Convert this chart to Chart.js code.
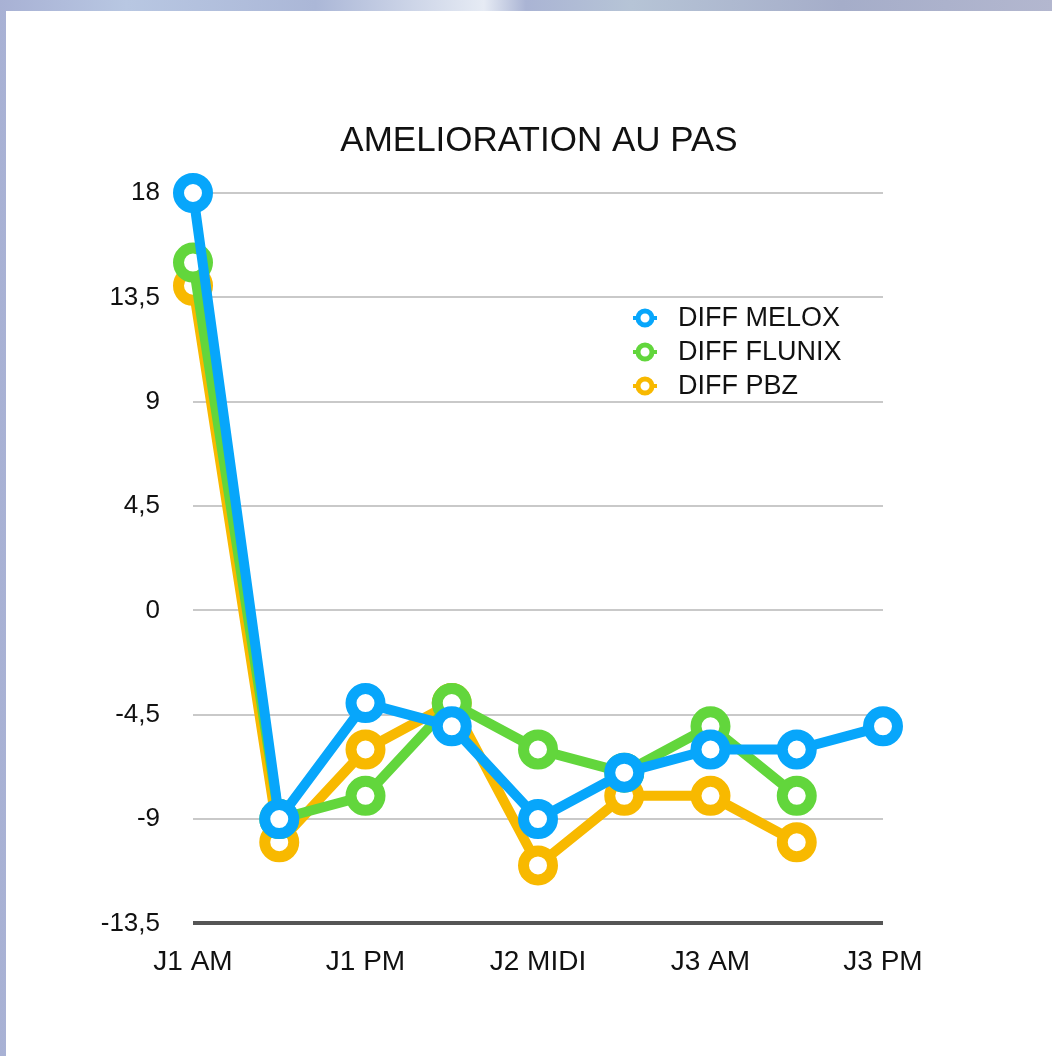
<!DOCTYPE html>
<html>
<head>
<meta charset="utf-8">
<script src="https://cdn.jsdelivr.net/npm/chart.js@4.4.1/dist/chart.umd.min.js"></script>
<style>
  html, body { margin: 0; padding: 0; }
  body {
    width: 1052px; height: 1056px; overflow: hidden;
    background: linear-gradient(90deg, #a8b1d4 0%, #b8c7e2 12%, #abb7d7 30%, #e6ebf4 46%, #aab4d4 50%, #b6c4d6 60%, #a5adc9 80%, #b3b7cf 100%);
  }
  #panel {
    position: absolute; left: 6px; top: 11px; width: 1046px; height: 1045px;
    background: #ffffff;
  }
</style>
</head>
<body>
<div id="panel"><canvas id="chart" width="1046" height="1045"></canvas></div>
<script>
const categories = ['J1 AM', 'J1 MIDI', 'J1 PM', 'J2 AM', 'J2 MIDI', 'J2 PM', 'J3 AM', 'J3 MIDI', 'J3 PM'];
const diffMelox  = [18, -9, -4, -5, -9, -7, -6, -6, -5];
const diffFlunix = [15, -9, -8, -4, -6, -7, -5, -8, null];
const diffPbz    = [14, -10, -6, -4, -11, -8, -8, -10, null];
const yTicks = [-13.5, -9, -4.5, 0, 4.5, 9, 13.5, 18];

const BLUE = '#07a6fb';
const GREEN = '#62d63c';
const ORANGE = '#f8b900';
const FONT = '"Liberation Sans", Arial, Helvetica, sans-serif';

function series(label, data, color) {
  return {
    label: label,
    data: data,
    borderColor: color,
    backgroundColor: '#ffffff',
    borderWidth: 10,
    tension: 0,
    pointRadius: 14.5,
    pointBorderWidth: 11,
    pointBackgroundColor: '#ffffff',
    pointBorderColor: color,
    spanGaps: false,
    clip: false
  };
}

// legende dessinee dans la zone du graphique
const insideLegend = {
  id: 'insideLegend',
  afterDraw(chart) {
    const c = chart.ctx;
    c.save();
    c.font = '27px ' + FONT;
    c.textBaseline = 'middle';
    c.textAlign = 'left';
    chart.data.datasets.forEach((ds, i) => {
      const y = 307 + i * 34;
      c.strokeStyle = ds.borderColor;
      c.lineWidth = 4;
      c.beginPath();
      c.moveTo(627, y);
      c.lineTo(651, y);
      c.stroke();
      c.beginPath();
      c.arc(639, y, 7, 0, Math.PI * 2);
      c.fillStyle = '#ffffff';
      c.fill();
      c.lineWidth = 5;
      c.stroke();
      c.fillStyle = '#111111';
      c.fillText(ds.label, 672, y + 1);
    });
    c.restore();
  }
};

new Chart(document.getElementById('chart'), {
  type: 'line',
  data: {
    labels: categories,
    datasets: [
      series('DIFF MELOX', diffMelox, BLUE),
      series('DIFF FLUNIX', diffFlunix, GREEN),
      series('DIFF PBZ', diffPbz, ORANGE)
    ]
  },
  options: {
    responsive: false,
    animation: false,
    layout: { padding: { left: 20, right: 0, top: 0, bottom: 55 } },
    plugins: {
      legend: { display: false },
      tooltip: { enabled: false },
      title: {
        display: true,
        text: 'AMELIORATION AU PAS',
        color: '#111111',
        font: { family: FONT, size: 35, weight: 'normal', lineHeight: 1.2 },
        padding: { top: 109, bottom: 31 }
      }
    },
    scales: {
      x: {
        offset: false,
        grid: { display: false, drawTicks: false },
        border: { display: false },
        ticks: {
          autoSkip: false,
          maxRotation: 0,
          padding: 22,
          color: '#111111',
          font: { family: FONT, size: 28 },
          callback: (v, i) => (i % 2 === 0 ? categories[i] : '')
        }
      },
      y: {
        min: -13.5,
        max: 18,
        afterFit: (s) => { s.width = 167; },
        afterBuildTicks: (s) => { s.ticks = yTicks.map(v => ({ value: v })); },
        border: { display: false },
        grid: {
          drawTicks: false,
          color: (ctx) => (ctx.tick && ctx.tick.value === -13.5 ? '#555555' : '#c9c9c9'),
          lineWidth: (ctx) => (ctx.tick && ctx.tick.value === -13.5 ? 4 : 2)
        },
        ticks: {
          padding: 33,
          color: '#111111',
          font: { family: FONT, size: 26 },
          callback: (v) => String(v).replace('.', ',')
        }
      },
      // axe vide a droite pour reserver la marge
      yRight: {
        position: 'right',
        min: 0,
        max: 1,
        afterFit: (s) => { s.width = 169; },
        grid: { display: false, drawTicks: false },
        border: { display: false },
        ticks: { display: false }
      }
    }
  },
  plugins: [insideLegend]
});
</script>
</body>
</html>
